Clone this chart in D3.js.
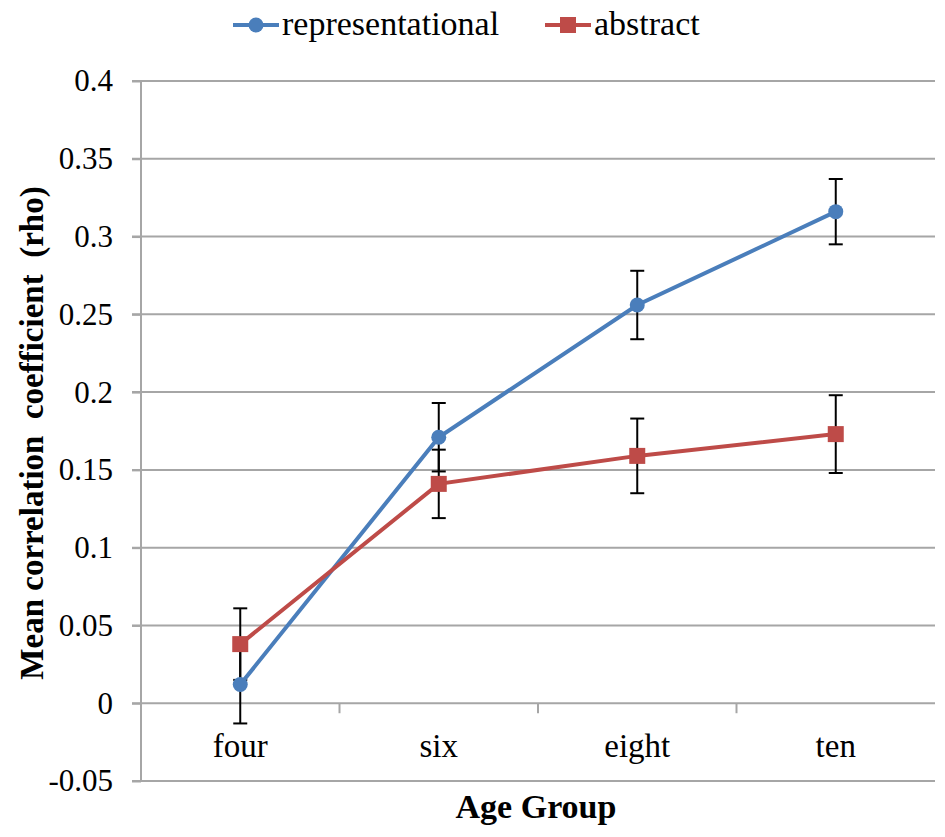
<!DOCTYPE html>
<html>
<head>
<meta charset="utf-8">
<style>
body { margin: 0; background: #fff; }
svg { font-family: "Liberation Serif", "Times New Roman", Times, "DejaVu Serif", serif; }
svg text { font-family: "Liberation Serif", "Times New Roman", Times, "DejaVu Serif", serif; fill: #000; }
.grid line { stroke: #a6a6a6; stroke-width: 2; }
.axis path, .axis line { stroke: #a6a6a6; stroke-width: 2; }
</style>
</head>
<body>
<svg id="chart"></svg>
<script src="https://d3js.org/d3.v7.min.js"></script>
<script>

var groups = ["four", "six", "eight", "ten"];
var yTicks = [-0.05, 0, 0.05, 0.1, 0.15, 0.2, 0.25, 0.3, 0.35, 0.4];

var repMean = [0.012, 0.171, 0.256, 0.316];
var repErr = [0.025, 0.022, 0.022, 0.021];
var absMean = [0.038, 0.141, 0.159, 0.173];
var absErr = [0.023, 0.022, 0.024, 0.025];

var serif = "Liberation Serif, Times New Roman, serif";
var width = 945, height = 837;
var plotLeft = 141, plotRight = 935, plotTop = 81, plotBottom = 781;

var svg = d3.select("#chart").attr("width", width).attr("height", height);

var x = d3.scaleBand().domain(groups).range([plotLeft, plotRight]);
var y = d3.scaleLinear().domain([-0.05, 0.4]).range([plotBottom, plotTop]);

// horizontal gridlines with small ticks on the left
svg.append("g").attr("class", "grid")
  .selectAll("line").data(yTicks).enter().append("line")
  .attr("x1", plotLeft - 9).attr("x2", plotRight)
  .attr("y1", d => y(d)).attr("y2", d => y(d));

// y axis
var yAxis = svg.append("g").attr("class", "axis")
  .attr("transform", `translate(${plotLeft},0)`)
  .call(d3.axisLeft(y).tickValues(yTicks).tickSize(9).tickPadding(19)
    .tickFormat(d => String(+d.toFixed(2))));
yAxis.attr("font-family", serif).attr("font-size", 31);
yAxis.select(".domain").attr("d", `M0,${plotTop}V${plotBottom}`);

// x axis sits on zero
var xAxis = svg.append("g").attr("class", "axis")
  .attr("transform", `translate(0,${y(0)})`)
  .call(d3.axisBottom(x).tickSize(0).tickPadding(30));
xAxis.attr("font-family", serif).attr("font-size", 33);
xAxis.select(".domain").remove();
xAxis.selectAll(".tick line").remove();
svg.append("g").attr("class", "axis")
  .selectAll("line").data(groups.slice(1)).enter().append("line")
  .attr("x1", d => x(d)).attr("x2", d => x(d))
  .attr("y1", y(0)).attr("y2", y(0) + 10);

var cx = d => x(d) + x.bandwidth() / 2;

function drawErrors(means, errs) {
  var g = svg.append("g").attr("stroke", "#000").attr("stroke-width", 2);
  groups.forEach(function (gname, i) {
    var xc = cx(gname);
    var lo = y(means[i] - errs[i]), hi = y(means[i] + errs[i]);
    g.append("line").attr("x1", xc).attr("x2", xc).attr("y1", lo).attr("y2", hi);
    g.append("line").attr("x1", xc - 7).attr("x2", xc + 7).attr("y1", lo).attr("y2", lo);
    g.append("line").attr("x1", xc - 7).attr("x2", xc + 7).attr("y1", hi).attr("y2", hi);
  });
}
drawErrors(repMean, repErr);
drawErrors(absMean, absErr);

var line = d3.line().x((d, i) => cx(groups[i])).y(d => y(d));

svg.append("path").datum(repMean)
  .attr("fill", "none").attr("stroke", "#4a7ebb").attr("stroke-width", 4).attr("d", line);
svg.append("g").selectAll("circle").data(repMean).enter().append("circle")
  .attr("cx", (d, i) => cx(groups[i])).attr("cy", d => y(d)).attr("r", 7.5)
  .attr("fill", "#4a7ebb");

svg.append("path").datum(absMean)
  .attr("fill", "none").attr("stroke", "#be4b48").attr("stroke-width", 4).attr("d", line);
svg.append("g").selectAll("rect").data(absMean).enter().append("rect")
  .attr("x", (d, i) => cx(groups[i]) - 8).attr("y", d => y(d) - 8)
  .attr("width", 16).attr("height", 16).attr("fill", "#be4b48");

// axis titles
svg.append("text").attr("x", 536).attr("y", 818)
  .attr("font-family", serif)
  .attr("text-anchor", "middle").attr("font-size", 34).attr("font-weight", "bold")
  .text("Age Group");
svg.append("text").attr("transform", `translate(43,433) rotate(-90)`)
  .attr("font-family", serif)
  .attr("text-anchor", "middle").attr("font-size", 33).attr("font-weight", "bold")
  .style("white-space", "pre")
  .text("Mean correlation  coefficient  (rho)");

// legend
var legend = [
  { name: "representational", color: "#4a7ebb", x: 233, shape: "circle" },
  { name: "abstract", color: "#be4b48", x: 545, shape: "square" }
];
legend.forEach(function (l) {
  var g = svg.append("g").attr("transform", `translate(${l.x},25)`);
  g.append("line").attr("x1", 0).attr("x2", 46).attr("stroke", l.color).attr("stroke-width", 4);
  if (l.shape === "circle") g.append("circle").attr("cx", 23).attr("r", 7.5).attr("fill", l.color);
  else g.append("rect").attr("x", 15).attr("y", -8).attr("width", 16).attr("height", 16).attr("fill", l.color);
  g.append("text").attr("x", 49).attr("y", 10).attr("font-family", serif)
    .attr("font-size", 34).text(l.name);
});

</script>
</body>
</html>
